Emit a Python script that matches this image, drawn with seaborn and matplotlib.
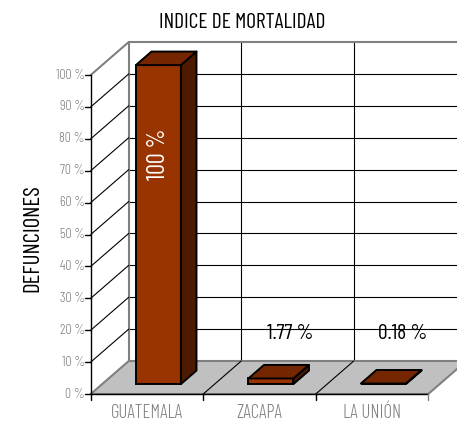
import matplotlib
matplotlib.use("Agg")
import matplotlib.pyplot as plt
import matplotlib.transforms as mtransforms
from matplotlib.patches import Polygon
import seaborn as sns
import pandas as pd

# ---- data ----
categories = ["GUATEMALA", "ZACAPA", "LA UNIÓN"]
values = [100, 1.77, 0.18]
y_ticks = [0, 10, 20, 30, 40, 50, 60, 70, 80, 90, 100]
title = "INDICE DE MORTALIDAD"
y_title = "DEFUNCIONES"

sns.set_theme(style="white")
plt.rcParams["font.family"] = ["Barlow Condensed", "DejaVu Sans"]
plt.rcParams["font.weight"] = 300

W, H, DPI = 457, 424, 100
fig = plt.figure(figsize=(W / DPI, H / DPI), dpi=DPI)
ax = fig.add_axes([0, 0, 1, 1])

# pixel geometry of the oblique 3-D frame
SX = 112.5          # px per category
SY = 3.19           # px per percent
X0, Y0 = 147, 394   # pixel of (first category centre, 0 %)
DEPTH_PX = (38, 33) # floor depth vector in px (right, up)


def px2x(p):
    return (p - X0) / SX


def py2v(p):
    return (Y0 - p) / SY


ddx = DEPTH_PX[0] / SX
ddy = DEPTH_PX[1] / SY
n = len(categories)
xl, xr = -0.5, n - 0.5
vmax = y_ticks[-1]

# front faces of the bars
df = pd.DataFrame({"cat": categories, "val": values})
sns.barplot(data=df, x="cat", y="val", width=0.4, color="#993300",
            saturation=1, edgecolor="black", linewidth=1.4, ax=ax, zorder=5)
bars = list(ax.patches)

ax.set_xlim(px2x(0), px2x(W))
ax.set_ylim(py2v(H), py2v(0))
ax.axis("off")

GRID = "black"
EDGE = "#808080"

# floor
floor = Polygon([(xl, 0), (xr, 0), (xr + ddx, ddy), (xl + ddx, ddy)],
                closed=True, facecolor="#c0c0c0", edgecolor="none", zorder=1)
ax.add_patch(floor)
ax.plot([xl, xl + ddx, xr + ddx, xr, xl], [0, ddy, ddy, 0, 0],
        color=EDGE, lw=1.5, zorder=2, solid_joinstyle="miter")
ax.plot([xl, xr], [0, 0], color="black", lw=1.0, zorder=3)

# floor separators between categories + front ticks
for b in range(1, n):
    xb = xl + b
    ax.plot([xb, xb + ddx], [0, ddy], color=GRID, lw=0.8, zorder=2)
for b in range(n + 1):
    xb = xl + b
    ax.plot([xb, xb], [0, -6 / SY], color="black" if b < n else EDGE,
            lw=1.0, zorder=3)

# back wall
for t in y_ticks[1:-1]:
    ax.plot([xl + ddx, xr + ddx], [t + ddy, t + ddy], color=GRID, lw=0.8, zorder=1)
for b in range(1, n):
    xb = xl + b + ddx
    ax.plot([xb, xb], [ddy, vmax + ddy], color=GRID, lw=0.8, zorder=1)
ax.plot([xl + ddx, xr + ddx], [vmax + ddy, vmax + ddy], color=EDGE, lw=1.5, zorder=2)
ax.plot([xl + ddx, xl + ddx], [ddy, vmax + ddy], color=EDGE, lw=1.5, zorder=2)

# left wall
for t in y_ticks[1:-1]:
    ax.plot([xl, xl + ddx], [t, t + ddy], color=GRID, lw=0.8, zorder=2)
ax.plot([xl, xl + ddx], [vmax, vmax + ddy], color=EDGE, lw=1.5, zorder=2)
ax.plot([xl, xl], [0, vmax], color="black", lw=1.0, zorder=3)

# value axis ticks and labels
for t in y_ticks:
    ax.plot([xl - 6 / SX, xl], [t, t], color="black", lw=1.0, zorder=3)
    ax.text(xl - 6 / SX, t, f"{t} %", ha="right", va="center",
            fontsize=10, color="#808080")

# category labels
for i, c in enumerate(categories):
    ax.text(i, -19 / SY, c, ha="center", va="center",
            fontsize=13.5, color="#808080")

# bars: shift front faces into the floor, add top and side faces
Z0, DZ = 0.30, 0.41
shift = mtransforms.offset_copy(ax.transData, fig=fig,
                                x=Z0 * DEPTH_PX[0] * 72 / DPI,
                                y=Z0 * DEPTH_PX[1] * 72 / DPI, units="points")
bdx, bdy = DZ * ddx, DZ * ddy
for p, v in zip(bars, values):
    p.set_transform(shift)
    x0, w, h = p.get_x(), p.get_width(), p.get_height()
    top = Polygon([(x0, h), (x0 + w, h), (x0 + w + bdx, h + bdy), (x0 + bdx, h + bdy)],
                  closed=True, facecolor="#732600", edgecolor="black",
                  lw=1.4, zorder=5, transform=shift, joinstyle="round")
    side = Polygon([(x0 + w, 0), (x0 + w, h), (x0 + w + bdx, h + bdy), (x0 + w + bdx, bdy)],
                   closed=True, facecolor="#4d1a00", edgecolor="black",
                   lw=1.4, zorder=5, transform=shift, joinstyle="round")
    ax.add_patch(side)
    ax.add_patch(top)
    xc = x0 + w / 2
    label = f"{v:g} %"
    if v > 50:
        ax.text(xc, 0.72 * v, label, rotation=90, ha="center", va="center",
                fontsize=17.5, color="white", transform=shift, zorder=6,
                fontweight="normal")
    else:
        ax.text(xc + 0.17, 16.0, label, ha="center", va="center",
                fontsize=15.5, color="black", transform=shift, zorder=6,
                fontweight="normal")

# titles
fig.text(242 / W, 1 - 22 / H, title, ha="center", va="center", fontsize=15.5,
         color="black", fontweight="normal")
fig.text(33 / W, 1 - 238 / H, y_title, ha="center", va="center", rotation=90,
         fontsize=16.5, color="black", fontweight="normal")

fig.savefig("out.png", dpi=DPI)
